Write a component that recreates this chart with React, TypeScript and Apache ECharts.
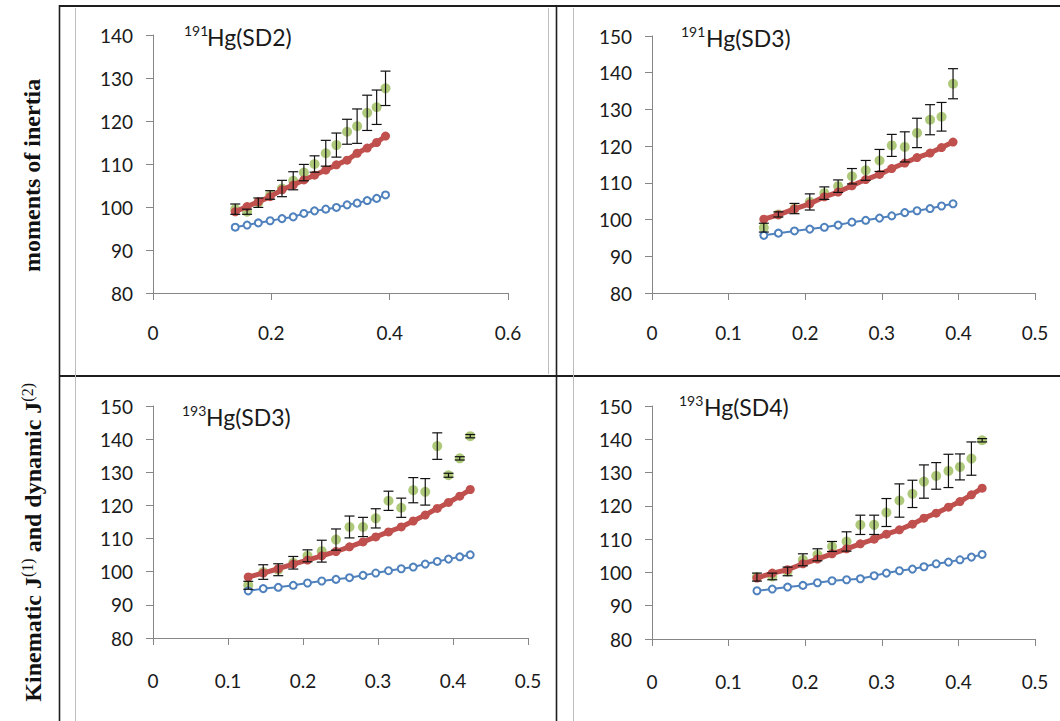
import React, { useEffect, useRef } from "react";
import * as echarts from "echarts";

// ---------- data ----------
// 191Hg(SD2)
const x1 = [0.139, 0.159, 0.178, 0.198, 0.218, 0.237, 0.255, 0.273, 0.292, 0.310, 0.328, 0.345, 0.362, 0.378, 0.393];
const blue1 = [95.3, 95.8, 96.3, 96.8, 97.3, 97.7, 98.5, 99.1, 99.5, 99.9, 100.5, 100.9, 101.5, 102.0, 102.8];
const red1 = [98.9, 100.1, 101.2, 102.4, 104.0, 105.1, 106.3, 107.4, 108.6, 109.8, 110.9, 112.5, 113.7, 115.0, 116.5];
const green1 = [99.5, 98.9, 101.0, 102.8, 104.3, 106.1, 108.0, 110.0, 112.5, 114.4, 117.5, 118.8, 121.9, 123.2, 127.6];
const err1 = [1.2, 0.6, 1.1, 1.0, 1.9, 2.1, 1.9, 1.9, 3.0, 2.8, 2.9, 4.0, 4.1, 4.0, 4.0];

// 191Hg(SD3)
const x2 = [0.146, 0.165, 0.186, 0.206, 0.225, 0.243, 0.261, 0.279, 0.297, 0.313, 0.330, 0.346, 0.363, 0.378, 0.393];
const blue2 = [95.7, 96.3, 96.9, 97.4, 97.9, 98.5, 99.3, 99.8, 100.4, 101.0, 101.9, 102.4, 103.0, 103.7, 104.3];
const red2 = [100.1, 101.3, 102.9, 104.3, 106.2, 107.5, 109.2, 110.9, 112.3, 113.9, 115.4, 116.9, 118.1, 119.6, 121.1];
const green2 = [97.8, 101.4, 103.0, 104.8, 107.2, 109.1, 111.8, 113.4, 116.1, 120.2, 119.8, 123.6, 127.2, 128.0, 137.0];
const err2 = [1.2, 0.7, 1.4, 2.2, 1.7, 1.7, 2.1, 2.7, 3.0, 3.0, 4.1, 4.0, 4.1, 3.9, 4.1];

// 193Hg(SD3)
const x3 = [0.127, 0.147, 0.167, 0.187, 0.206, 0.225, 0.244, 0.262, 0.280, 0.297, 0.314, 0.331, 0.347, 0.363, 0.379, 0.394, 0.409, 0.423];
const blue3 = [94.2, 94.9, 95.3, 95.9, 96.6, 97.2, 97.7, 98.2, 98.9, 99.6, 100.3, 100.9, 101.4, 102.3, 103.1, 103.8, 104.5, 105.1];
const red3 = [98.4, 99.6, 100.9, 102.3, 103.5, 104.8, 106.1, 107.5, 109.0, 110.5, 112.0, 113.5, 115.3, 117.1, 119.1, 120.9, 122.8, 124.8];
const green3 = [95.9, 99.9, 100.6, 102.7, 104.8, 106.2, 109.7, 113.5, 113.5, 116.1, 121.4, 119.3, 124.6, 124.1, 137.9, 129.1, 134.2, 140.9];
const err3 = [1.2, 2.2, 1.8, 1.9, 1.8, 3.3, 3.2, 3.3, 2.9, 2.9, 2.9, 2.9, 3.8, 4.0, 4.0, 0.6, 0.5, 0.5];

// 193Hg(SD4)
const x4 = [0.137, 0.157, 0.177, 0.197, 0.216, 0.235, 0.254, 0.272, 0.290, 0.306, 0.323, 0.340, 0.355, 0.371, 0.387, 0.402, 0.417, 0.431];
const blue4 = [94.5, 95.0, 95.6, 96.1, 96.9, 97.5, 97.8, 98.1, 99.0, 99.8, 100.5, 101.0, 101.7, 102.6, 103.1, 103.8, 104.6, 105.4];
const red4 = [98.3, 99.8, 100.8, 102.6, 104.0, 105.6, 107.1, 108.6, 110.0, 111.5, 112.8, 114.5, 116.3, 117.8, 119.6, 121.3, 123.3, 125.3];
const green4 = [98.6, 98.8, 100.3, 103.8, 105.3, 107.8, 109.3, 114.3, 114.3, 118.0, 121.6, 123.6, 127.3, 129.0, 130.5, 131.7, 134.2, 139.7];
const err4 = [1.2, 1.0, 1.3, 1.8, 1.8, 1.5, 2.9, 2.9, 2.9, 4.2, 5.0, 4.1, 5.0, 4.0, 5.0, 3.9, 5.0, 0.5];

const titleSups = ["191", "191", "193", "193"];
const titleMains = ["Hg(SD2)", "Hg(SD3)", "Hg(SD3)", "Hg(SD4)"];
const xMaxes = [0.6, 0.5, 0.5, 0.5];
const xIntervals = [0.2, 0.1, 0.1, 0.1];
const yMaxes = [140, 150, 150, 150];
const yLabelText = "moments of inertia";

// ---------- layout ----------
const grids = [
  { left: 153, top: 35, width: 355, height: 258 },
  { left: 652, top: 36, width: 383, height: 257 },
  { left: 153, top: 406, width: 375, height: 232 },
  { left: 652, top: 406, width: 383, height: 233 },
];
const xLabelMargins = [30, 30, 33, 33];
const titlePos = [
  { sx: 184, mx: 207, y: 37 },
  { sx: 681, mx: 706, y: 38 },
  { sx: 182, mx: 206, y: 417 },
  { sx: 679, mx: 704, y: 407 },
];

const BLUE = "#4f81bd";
const RED = "#c0504d";
const GREEN = "#9bbb59";
const AXIS = "#868686";
const LABEL_FONT = "Lato, 'Open Sans', sans-serif";
const SERIF = "'Liberation Serif', 'DejaVu Serif', serif";

export default function App() {
  const ref = useRef<HTMLDivElement>(null);

  useEffect(() => {
    if (!ref.current) return;
    const chart = echarts.init(ref.current, undefined, { renderer: "svg" });

    const panels = [
      { x: x1, blue: blue1, red: red1, green: green1, err: err1 },
      { x: x2, blue: blue2, red: red2, green: green2, err: err2 },
      { x: x3, blue: blue3, red: red3, green: green3, err: err3 },
      { x: x4, blue: blue4, red: red4, green: green4, err: err4 },
    ];

    const xAxis = panels.map((_, i) => ({
      type: "value",
      gridIndex: i,
      min: 0,
      max: xMaxes[i],
      interval: xIntervals[i],
      axisLine: { show: true, lineStyle: { color: AXIS, width: 1 } },
      axisTick: { show: true, length: 7, lineStyle: { color: AXIS } },
      splitLine: { show: false },
      axisLabel: {
        margin: xLabelMargins[i],
        fontSize: 19,
        color: "#1a1a1a",
        fontFamily: LABEL_FONT,
        showMaxLabel: true,
        showMinLabel: true,
      },
    }));

    const yAxis = panels.map((_, i) => ({
      type: "value",
      gridIndex: i,
      min: 80,
      max: yMaxes[i],
      interval: 10,
      axisLine: { show: true, lineStyle: { color: AXIS, width: 1 } },
      axisTick: { show: true, length: 7, lineStyle: { color: AXIS } },
      splitLine: { show: false },
      axisLabel: {
        margin: 20,
        fontSize: 19,
        color: "#1a1a1a",
        fontFamily: LABEL_FONT,
      },
    }));

    const series: any[] = [];
    panels.forEach((p, i) => {
      series.push({
        type: "scatter",
        xAxisIndex: i,
        yAxisIndex: i,
        data: p.x.map((v, k) => [v, p.green[k]]),
        symbol: "circle",
        symbolSize: 10,
        itemStyle: { color: GREEN },
        z: 2,
      });
      series.push({
        type: "line",
        xAxisIndex: i,
        yAxisIndex: i,
        data: p.x.map((v, k) => [v, p.red[k]]),
        symbol: "circle",
        symbolSize: 9,
        showAllSymbol: true,
        lineStyle: { color: RED, width: 5 },
        itemStyle: { color: RED },
        z: 3,
      });
      series.push({
        type: "line",
        xAxisIndex: i,
        yAxisIndex: i,
        data: p.x.map((v, k) => [v, p.blue[k]]),
        symbol: "emptyCircle",
        symbolSize: 7,
        showAllSymbol: true,
        lineStyle: { color: BLUE, width: 2 },
        itemStyle: { color: BLUE, borderWidth: 1.3 },
        z: 4,
      });
      series.push({
        type: "custom",
        xAxisIndex: i,
        yAxisIndex: i,
        data: p.x.map((v, k) => [v, p.green[k], p.err[k]]),
        encode: { x: 0, y: 1 },
        z: 5,
        silent: true,
        renderItem: (params: any, api: any) => {
          const xv = api.value(0);
          const yv = api.value(1);
          const e = api.value(2);
          const t = api.coord([xv, yv + e]);
          const b = api.coord([xv, yv - e]);
          const hw = 5;
          const st = { stroke: "#111", lineWidth: 1.2 };
          return {
            type: "group",
            children: [
              { type: "line", shape: { x1: t[0], y1: t[1], x2: b[0], y2: b[1] }, style: st },
              { type: "line", shape: { x1: t[0] - hw, y1: t[1], x2: t[0] + hw, y2: t[1] }, style: st },
              { type: "line", shape: { x1: b[0] - hw, y1: b[1], x2: b[0] + hw, y2: b[1] }, style: st },
            ],
          };
        },
      });
    });

    const graphic: any[] = [];
    const dark = { stroke: "#1e1e1e", lineWidth: 1.6 };
    const light = { stroke: "#bdbdbd", lineWidth: 1 };
    graphic.push({ type: "line", shape: { x1: 59, y1: 6, x2: 1060, y2: 6 }, style: { stroke: "#1e1e1e", lineWidth: 2 } });
    graphic.push({ type: "line", shape: { x1: 59, y1: 376, x2: 1060, y2: 376 }, style: { stroke: "#1e1e1e", lineWidth: 2 } });
    graphic.push({ type: "line", shape: { x1: 59.5, y1: 5, x2: 59.5, y2: 721 }, style: dark });
    graphic.push({ type: "line", shape: { x1: 556.5, y1: 5, x2: 556.5, y2: 721 }, style: dark });
    graphic.push({ type: "line", shape: { x1: 75.5, y1: 8, x2: 75.5, y2: 721 }, style: light });
    graphic.push({ type: "line", shape: { x1: 548.5, y1: 8, x2: 548.5, y2: 374 }, style: light });
    graphic.push({ type: "line", shape: { x1: 573.5, y1: 8, x2: 573.5, y2: 721 }, style: light });

    titlePos.forEach((tp, i) => {
      graphic.push({
        type: "text",
        x: tp.sx,
        y: tp.y - 7,
        style: {
          text: titleSups[i],
          fontSize: 14,
          fontFamily: LABEL_FONT,
          fill: "#1a1a1a",
          textAlign: "left",
          textVerticalAlign: "middle",
        },
      });
      graphic.push({
        type: "text",
        x: tp.mx,
        y: tp.y,
        style: {
          text: titleMains[i],
          fontSize: 23,
          fontFamily: LABEL_FONT,
          fill: "#1a1a1a",
          textAlign: "left",
          textVerticalAlign: "middle",
        },
      });
    });

    graphic.push({
      type: "text",
      x: 32,
      y: 272,
      rotation: Math.PI / 2,
      style: {
        text: yLabelText,
        fontSize: 24,
        fontWeight: "bold",
        fontFamily: SERIF,
        fill: "#111",
        textAlign: "left",
        textVerticalAlign: "middle",
      },
    });
    graphic.push({
      type: "text",
      x: 32,
      y: 383,
      rotation: Math.PI / 2,
      style: {
        text: "{b|Kinematic J}{s|(1)}{b| and dynamic J}{s|(2)}",
        textAlign: "right",
        textVerticalAlign: "middle",
        rich: {
          b: {
            fontSize: 24,
            fontWeight: "bold",
            fontFamily: SERIF,
            fill: "#111",
            color: "#111",
            lineHeight: 26,
            verticalAlign: "bottom",
          },
          s: {
            fontSize: 16,
            fontFamily: SERIF,
            fill: "#111",
            color: "#111",
            lineHeight: 26,
            verticalAlign: "top",
          },
        },
      },
    });

    chart.setOption({
      animation: false,
      backgroundColor: "#ffffff",
      grid: grids.map((g) => ({ ...g, containLabel: false })),
      xAxis,
      yAxis,
      series,
      graphic,
    });

    return () => chart.dispose();
  }, []);

  return (
    <div
      ref={ref}
      style={{ position: "absolute", left: 0, top: 0, width: 1060, height: 721, background: "#fff" }}
    />
  );
}
